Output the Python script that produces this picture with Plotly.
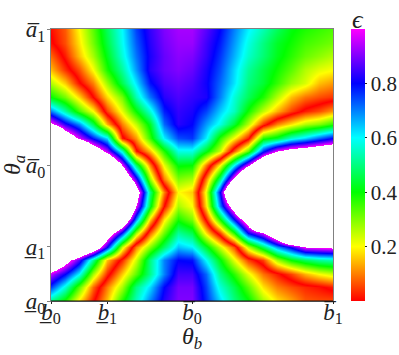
import plotly.graph_objects as go

# positions along each axis, as fractions of the plotted span
theta_b = [i / 20 for i in range(21)]
theta_a = [j / 20 for j in range(21)]

# epsilon (bottom row first). The band pattern
# folds on the red curves, so the readings carry a sign on either side of them;
# readings below -1 fall in the blank lobes.
row_00 = [-.5,-.38,-.18,-.01,.15,.38,.55,.7,.83,.9,.9,.77,.63,.5,.41,.27,.18,.13,.07,.06,.06]
row_01 = [-.75,-.57,-.33,-.08,.1,.27,.5,.63,.8,.89,.89,.75,.57,.46,.33,.18,.1,.06,.03,.01,-.02]
row_02 = [-.95,-.8,-.6,-.27,-.03,.16,.33,.51,.7,.85,.85,.72,.5,.37,.22,.09,.02,-.05,-.14,-.2,-.24]
row_03 = [-1.35,-1.1,-.86,-.51,-.15,.03,.24,.5,.7,.8,.79,.6,.41,.22,.05,-.05,-.27,-.4,-.47,-.52,-.54]
row_04 = [-2,-2,-1.5,-1.25,-.8,-.24,.1,.3,.48,.65,.61,.43,.24,.06,-.25,-.47,-.68,-.82,-1.0,-1.02,-1.04]
row_05 = [-2,-2,-2,-1.6,-1.2,-.77,-.27,.08,.32,.52,.46,.18,-.05,-.37,-.8,-.98,-1.3,-1.9,-1.9,-1.9,-1.9]
row_06 = [-2,-2,-2,-2,-1.8,-1.35,-.7,-.17,.18,.38,.3,-.02,-.4,-.8,-1.2,-2,-2,-2,-2,-2,-2]
row_07 = [-2,-2,-2,-2,-2,-1.7,-1.0,-.43,.0,.27,.2,-.18,-.7,-1.15,-1.9,-2,-2,-2,-2,-2,-2]
row_08 = [-2,-2,-2,-2,-2,-2,-1.15,-.5,-.1,.2,.16,-.22,-.8,-1.6,-2,-2,-2,-2,-2,-2,-2]
row_09 = [-2,-2,-2,-2,-2,-1.35,-.85,-.28,.1,.3,.27,-.1,-.5,-1.05,-1.6,-2,-2,-2,-2,-2,-2]
row_10 = [-2,-2,-2,-2,-1.5,-1.0,-.48,-.1,.22,.41,.4,.1,-.2,-.6,-.97,-1.4,-1.7,-1.7,-1.7,-1.7,-1.7]
row_11 = [-2,-1.9,-1.6,-1.2,-.94,-.56,-.02,.15,.38,.58,.58,.42,.24,-.07,-.33,-.77,-1.0,-1.1,-1.15,-1.2,-1.25]
row_12 = [-1.8,-1.2,-.97,-.78,-.62,-.02,.12,.36,.61,.74,.76,.61,.37,.2,.02,-.37,-.43,-.56,-.63,-.72,-.8]
row_13 = [-1.03,-.83,-.69,-.46,-.14,.1,.25,.43,.72,.83,.8,.68,.58,.44,.26,.04,-.1,-.18,-.26,-.3,-.37]
row_14 = [-.7,-.53,-.35,-.2,.05,.22,.4,.57,.78,.84,.82,.75,.64,.55,.39,.25,.14,.05,-.02,-.06,-.12]
row_15 = [-.4,-.31,-.17,.0,.17,.31,.54,.71,.83,.86,.84,.82,.7,.57,.47,.38,.26,.15,.09,.06,.04]
row_16 = [-.26,-.16,-.01,.1,.28,.46,.62,.79,.86,.88,.86,.81,.72,.62,.5,.44,.36,.28,.23,.15,.12]
row_17 = [-.15,-.04,.06,.2,.38,.52,.68,.83,.88,.9,.88,.82,.74,.63,.52,.45,.39,.33,.26,.22,.2]
row_18 = [-.08,.02,.15,.27,.42,.57,.71,.82,.88,.91,.9,.84,.76,.66,.56,.49,.42,.37,.32,.29,.26]
row_19 = [-.01,.06,.18,.31,.45,.59,.73,.83,.89,.92,.92,.85,.78,.68,.58,.5,.43,.39,.35,.33,.31]
row_20 = [.01,.07,.2,.33,.47,.6,.75,.84,.9,.93,.93,.87,.8,.7,.61,.54,.47,.41,.38,.36,.34]
epsilon = [row_00,row_01,row_02,row_03,row_04,row_05,row_06,row_07,row_08,row_09,row_10,
           row_11,row_12,row_13,row_14,row_15,row_16,row_17,row_18,row_19,row_20]

x_ticks = [0, .2, .5, 1]
x_labels = ["<i>b\u0332</i><sub>0</sub>", "<i>b\u0332</i><sub>1</sub>",
            "<i>b\u0305</i><sub>0</sub>", "<i>b\u0305</i><sub>1</sub>"]
y_ticks = [0, .2, .5, 1]
y_labels = ["<i>a\u0332</i><sub>0</sub>", "<i>a\u0332</i><sub>1</sub>",
            "<i>a\u0305</i><sub>0</sub>", "<i>a\u0305</i><sub>1</sub>"]
bar_ticks = [.2, .4, .6, .8]

RED, YEL, GRN, CYN, BLU, MAG = "#ff0000", "#ffff00", "#00ff00", "#00ffff", "#0000ff", "#ff00ff"
hue_steps = [RED, YEL, GRN, CYN, BLU, MAG]

# signed field: range -2..1, blank below -1, mirrored hues around 0
def pos(v):
    return (v + 2) / 3

signed_scale = [[0, "#ffffff"], [pos(-1), "#ffffff"]]
for k in range(5, -1, -1):
    signed_scale.append([pos(-k * .2), hue_steps[k]])
for k in range(1, 6):
    signed_scale.append([pos(k * .2), hue_steps[k]])

bar_scale = [[k / 5, hue_steps[k]] for k in range(6)]

FONT = "Liberation Serif"
INK = "#222222"
fig = go.Figure()
fig.add_trace(go.Heatmap(x=theta_b, y=theta_a, z=epsilon, zmin=-2, zmax=1,
                         colorscale=signed_scale, zsmooth="best", showscale=False,
                         hoverinfo="skip"))
# colour bar only: this trace lies outside the fixed axis ranges
fig.add_trace(go.Heatmap(x=[-3, -2], y=[-3, -2], z=[[0, 1], [1, 0]], zmin=0, zmax=1,
                         colorscale=bar_scale, hoverinfo="skip",
                         colorbar=dict(x=300 / 282, xanchor="left", xpad=0, ypad=0,
                                       y=0, yanchor="bottom", len=1, thickness=14,
                                       outlinewidth=0, tickvals=bar_ticks,
                                       ticktext=["0.2", "0.4", "0.6", "0.8"],
                                       ticks="outside", ticklen=2, tickcolor=INK,
                                       tickfont=dict(family=FONT, size=21, color=INK))))

fig.update_layout(
    width=399, height=355, margin=dict(l=51, r=66, t=29, b=54, autoexpand=False),
    paper_bgcolor="white", plot_bgcolor="white", font=dict(family=FONT, color=INK),
    xaxis=dict(range=[0, 1], tickvals=x_ticks, ticktext=x_labels, tickangle=0, automargin=False,
               ticks="outside", ticklen=2, tickcolor=INK, showgrid=False, zeroline=False,
               showline=True, mirror=True, linecolor="#808080", linewidth=1,
               ticklabelstandoff=-12,
               tickfont=dict(family=FONT, size=23, color=INK)),
    yaxis=dict(range=[0, 1], tickvals=y_ticks, ticktext=y_labels, automargin=False,
               ticks="outside", ticklen=3, tickcolor="#808080", showgrid=False, zeroline=False,
               showline=True, mirror=True, linecolor="#808080", linewidth=1,
               ticklabelstandoff=-3,
               tickfont=dict(family=FONT, size=23, color=INK)),
    annotations=[
        dict(text="<i>\u03b8</i><sub><i>b</i></sub>", xref="paper", yref="paper", x=.5, y=0,
             yshift=-37, xanchor="center", yanchor="middle", showarrow=False,
             font=dict(family=FONT, size=24, color=INK)),
        dict(text="<i>\u03b8</i><sub><i>a</i></sub>", xref="paper", yref="paper", x=0, y=.5,
             xshift=-37, xanchor="center", yanchor="middle", textangle=-90, showarrow=False,
             font=dict(family=FONT, size=24, color=INK)),
        dict(text="<i>\u03f5</i>", xref="paper", yref="paper", x=307 / 282, y=1,
             yshift=10, xanchor="center", yanchor="middle", showarrow=False,
             font=dict(family=FONT, size=26, color=INK)),
    ],
    shapes=[dict(type="line", xref="paper", yref="paper", x0=0, x1=1, y0=0, y1=0,
                 line=dict(color="#111111", width=1))],
)
fig.write_html("out.html", config=dict(displayModeBar=False),
               post_script="document.body.style.margin='0';")
